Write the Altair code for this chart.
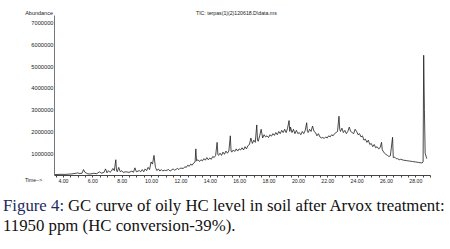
import altair as alt
import pandas as pd

times = [3.45, 3.8, 4.2, 4.6, 4.9, 5.0, 5.1, 5.3, 5.4, 5.5, 5.7, 5.9, 6.1, 6.3, 6.5, 6.6, 6.8, 6.9, 7.0, 7.1,
         7.2, 7.3, 7.4, 7.5, 7.6, 7.65, 7.7, 7.8, 7.9, 8.0, 8.1, 8.3, 8.5, 8.7, 8.8, 8.9, 9.0, 9.2, 9.3, 9.4,
         9.5, 9.6, 9.7, 9.8, 9.9, 10.0, 10.1, 10.2, 10.3, 10.4, 10.5, 10.6, 10.7, 10.8, 10.9, 11.0, 11.2, 11.3, 11.5, 11.6,
         11.8, 11.9, 12.0, 12.2, 12.3, 12.4, 12.5, 12.6, 12.7, 12.8, 12.9, 13.0, 13.05, 13.1, 13.2, 13.3, 13.4, 13.5, 13.6, 13.7,
         13.8, 13.9, 14.0, 14.1, 14.2, 14.3, 14.4, 14.5, 14.55, 14.6, 14.7, 14.8, 14.9, 15.0, 15.1, 15.2, 15.3, 15.4, 15.45, 15.5,
         15.6, 15.7, 15.8, 15.9, 16.0, 16.1, 16.2, 16.3, 16.4, 16.5, 16.6, 16.7, 16.8, 16.9, 17.0, 17.1, 17.2, 17.25, 17.3, 17.4,
         17.5, 17.6, 17.7, 17.8, 17.9, 18.0, 18.1, 18.2, 18.3, 18.4, 18.5, 18.6, 18.7, 18.8, 18.9, 19.0, 19.1, 19.2, 19.3, 19.4,
         19.45, 19.5, 19.6, 19.7, 19.8, 19.9, 20.0, 20.1, 20.2, 20.3, 20.4, 20.5, 20.6, 20.65, 20.7, 20.8, 20.9, 21.0, 21.1, 21.2,
         21.3, 21.4, 21.5, 21.6, 21.7, 21.8, 21.9, 22.0, 22.1, 22.2, 22.3, 22.4, 22.5, 22.6, 22.7, 22.8, 22.85, 22.9, 23.0, 23.1,
         23.2, 23.3, 23.4, 23.5, 23.6, 23.7, 23.8, 23.9, 24.0, 24.1, 24.2, 24.3, 24.4, 24.5, 24.6, 24.7, 24.8, 24.9, 25.0, 25.1,
         25.2, 25.3, 25.4, 25.5, 25.6, 25.7, 25.75, 25.8, 25.9, 26.0, 26.1, 26.2, 26.3, 26.45, 26.5, 26.6, 26.7, 26.8, 26.9, 27.0,
         27.2, 27.4, 27.6, 27.8, 28.0, 28.2, 28.45, 28.53, 28.57, 28.62, 28.67, 28.78]

abund_m = [0.02, 0.03, 0.03, 0.05, 0.08, 0.1, 0.07, 0.08, 0.25, 0.12, 0.05, 0.05, 0.08, 0.06, 0.15, 0.08, 0.12, 0.28, 0.1, 0.2,
           0.12, 0.18, 0.3, 0.2, 0.7, 0.2, 0.15, 0.35, 0.15, 0.2, 0.12, 0.15, 0.12, 0.18, 0.12, 0.33, 0.15, 0.2, 0.15, 0.25,
           0.15, 0.28, 0.2, 0.35, 0.25, 0.6, 0.5, 0.9, 0.35, 0.2, 0.28, 0.18, 0.25, 0.18, 0.22, 0.2, 0.25, 0.18, 0.28, 0.22,
           0.3, 0.25, 0.32, 0.3, 0.38, 0.35, 0.45, 0.4, 0.5, 0.45, 0.55, 0.6, 1.2, 0.65, 0.7, 0.62, 0.7, 0.65, 0.75, 0.68,
           0.8, 0.7, 0.78, 0.72, 0.85, 0.8, 0.9, 1.5, 0.95, 0.9, 1.0, 0.9, 1.05, 0.95, 1.1, 1.0, 1.1, 1.8, 1.1, 1.05,
           1.15, 1.08, 1.2, 1.1, 1.2, 1.15, 1.25, 1.15, 1.3, 1.2, 1.35, 1.4, 1.7, 1.45, 1.6, 1.5, 2.3, 1.6, 1.55, 1.8,
           2.1, 1.7, 1.85, 1.75, 1.8, 1.72, 1.85, 1.78, 1.9, 1.82, 1.95, 1.85, 2.0, 1.9, 2.05, 1.95, 2.1, 1.95, 2.15, 2.5,
           2.0, 2.2, 1.95, 2.1, 1.9, 2.05, 1.9, 1.95, 1.85, 2.0, 1.9, 2.05, 2.4, 2.0, 1.95, 2.1, 2.0, 2.25, 2.0, 1.95,
           1.8, 1.9, 1.75, 1.7, 1.72, 1.68, 1.75, 1.7, 1.8, 1.75, 1.85, 1.8, 1.9, 1.95, 2.0, 2.7, 2.1, 2.0, 2.15, 1.95,
           2.05, 1.9, 2.0, 2.2, 2.0, 1.95, 1.9, 2.1, 2.0, 1.85, 1.9, 1.75, 1.8, 1.6, 1.65, 1.5, 1.6, 1.4, 1.45, 1.3,
           1.4, 1.25, 1.3, 1.2, 1.25, 1.5, 1.15, 1.1, 1.0, 0.95, 0.9, 0.85, 0.88, 1.73, 0.8, 0.82, 0.75, 0.75, 0.7, 0.72,
           0.68, 0.66, 0.64, 0.62, 0.6, 0.58, 0.55, 0.6, 5.5, 3.0, 1.0, 0.75]

y_ticks = [1000000, 2000000, 3000000, 4000000, 5000000, 6000000, 7000000]
x_ticks = [v / 2 for v in range(7, 59)]

n = min(len(times), len(abund_m))
df = pd.DataFrame({"t": times[:n], "a": [v * 1e6 for v in abund_m[:n]]})

W, H = 376, 160

line = alt.Chart(df).mark_line(color="#1e1e1e", strokeWidth=0.8, interpolate="linear").encode(
    x=alt.X("t:Q", scale=alt.Scale(domain=[3.39, 29.0], nice=False, zero=False),
            axis=alt.Axis(values=x_ticks, title=None, grid=False, tickSize=2, tickColor="#444",
                          labelExpr="datum.value % 2 == 0 ? format(datum.value, '.2f') : ''",
                          labelOverlap=False, labelFontSize=5.2, labelColor="#222", labelPadding=1,
                          labelFont="Liberation Sans", domainColor="#444", domainWidth=1)),
    y=alt.Y("a:Q", scale=alt.Scale(domain=[0, 7350000], nice=False),
            axis=alt.Axis(values=y_ticks, format="d", title=None, grid=False, tickSize=0,
                          labelFontSize=5.7, labelColor="#222", labelPadding=1,
                          labelFont="Liberation Sans", domainColor="#777", domainWidth=1)),
)

def txt(s, x, y, size, color="#222", align="left", font="Liberation Sans", baseline="middle"):
    return alt.Chart(pd.DataFrame({"s": [s]})).mark_text(
        align=align, baseline=baseline, fontSize=size, font=font, color=color
    ).encode(text="s:N", x=alt.value(x), y=alt.value(y))

labels = [
    txt("Abundance", -1, -2.3, 5.5, align="right"),
    txt("TIC: terpas(1)(2)120618.D\\data.ms", 142, -2, 5.2),
    txt("Time-->", -29, 165, 5.0),
    txt("Figure 4:", -51, 196, 16.8, color="#1c2a5e", font="Liberation Serif", baseline="alphabetic"),
    txt("GC curve of oily HC level in soil after Arvox treatment:", 14, 196, 16.8, color="#111",
        font="Liberation Serif", baseline="alphabetic"),
    txt("11950 ppm (HC conversion-39%).", -51, 216, 16.8, color="#111",
        font="Liberation Serif", baseline="alphabetic"),
]

chart = alt.layer(line, *labels).properties(
    width=W, height=H,
    autosize=alt.AutoSizeParams(type="none"),
    padding={"left": 54, "top": 15, "right": 20, "bottom": 74},
    background="white",
).configure_view(stroke=None)

chart.save("out.html", embed_options={"renderer": "svg", "actions": False})
